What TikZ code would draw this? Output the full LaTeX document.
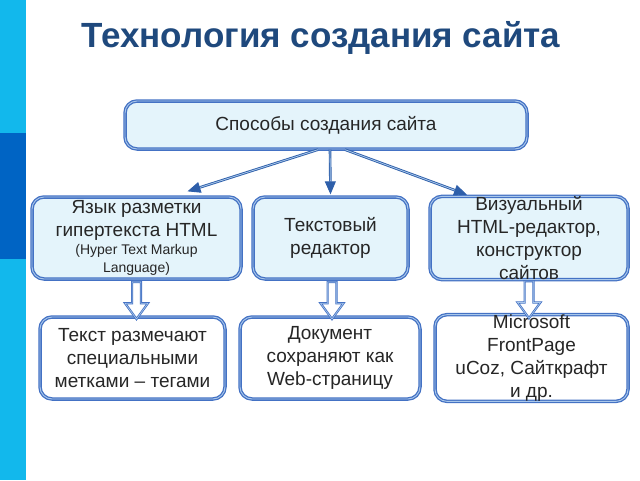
\documentclass[tikz,border=0pt]{standalone}
\usepackage{fontspec}
\setmainfont{Liberation Sans}
\usetikzlibrary{calc, positioning}
\usetikzlibrary{arrows.meta}
\usetikzlibrary{shapes.arrows}

\definecolor{barcyan}{RGB}{18,184,236}
\definecolor{bardark}{RGB}{0,100,196}
\definecolor{titleblue}{RGB}{31,73,125}
\definecolor{boxblue}{RGB}{68,114,196}
\definecolor{boxlight}{RGB}{170,200,235}
\definecolor{boxfill}{RGB}{228,244,251}
\definecolor{linkblue}{RGB}{46,95,170}

\begin{document}
\begin{tikzpicture}[x=1pt, y=-1pt,
  title/.style={text=titleblue, font=\fontsize{35}{40}\selectfont\bfseries},
  box/.style={draw=boxblue, double=boxlight, double distance=0.9pt, line width=1.3pt,
    rounded corners=12pt, fill=boxfill, align=center, inner sep=0pt,
    text=black!85, font=\fontsize{19}{23}\selectfont},
  leaf/.style={box, fill=white},
  link/.style={draw=linkblue, double=boxlight, double distance=0.8pt, line width=0.9pt,
    -{Triangle[length=13pt, width=11pt]}},
  downarrow/.style={single arrow, draw=boxblue, double=boxlight, double distance=0.6pt,
    line width=0.8pt, fill=white, shape border rotate=270, inner sep=4pt,
    minimum height=37pt, single arrow head extend=7pt,
    single arrow tip angle=72}]
\useasboundingbox (0,0) rectangle (640,480);

% side bar
\fill[barcyan] (0,0) rectangle (26,480);
\fill[bardark] (0,133) rectangle (26,259);

\node[title] (title) at (321,38) {Технология создания сайта};

% top
\node[box, minimum width=402pt, minimum height=48pt] (top) at (326,125) {Способы создания сайта};

% ways
\node[box, minimum width=209pt, minimum height=82pt] (a1) at (136.5,238)
  {Язык разметки\\гипертекста HTML\\[-5pt]{\fontsize{14}{18}\selectfont (Hyper Text Markup}\\[-5pt]{\fontsize{14}{18}\selectfont Language)}};
\node[box, minimum width=155pt, minimum height=82pt] (a2) at (330.5,238) {Текстовый\\редактор};
\node[box, minimum width=198pt, minimum height=82pt] (a3) at (529,238)
  {Визуальный\\HTML-редактор,\\конструктор\\сайтов};

% results
\node[leaf, minimum width=185pt, minimum height=82pt] (b1) at (132.5,358)
  {Текст размечают\\специальными\\метками -- тегами};
\node[leaf, minimum width=180pt, minimum height=82pt] (b2) at (330,358)
  {Документ\\сохраняют как\\Web-страницу};
\node[leaf, minimum width=193pt, minimum height=82pt] (b3) at (531.5,358)
  {Microsoft\\FrontPage\\uCoz, Сайткрафт\\и др.};

\draw[link] ([xshift=-8pt]top.south) -- ([xshift=51pt,yshift=5pt]a1.north);
\draw[link] ([xshift=4pt]top.south) -- ([yshift=2pt]a2.north);
\draw[link] ([xshift=19pt]top.south) -- ([xshift=-62pt,yshift=1pt]a3.north);

\path ([yshift=1pt]a1.south) -- (a1.south |- b1.north) node[midway, downarrow] (d1) {};
\path ([xshift=1.5pt,yshift=1pt]a2.south) -- ([xshift=1.5pt]a2.south |- b2.north) node[midway, downarrow] (d2) {};
\path ([yshift=1pt]a3.south) -- (a3.south |- b3.north) node[midway, downarrow] (d3) {};
\end{tikzpicture}
\end{document}
